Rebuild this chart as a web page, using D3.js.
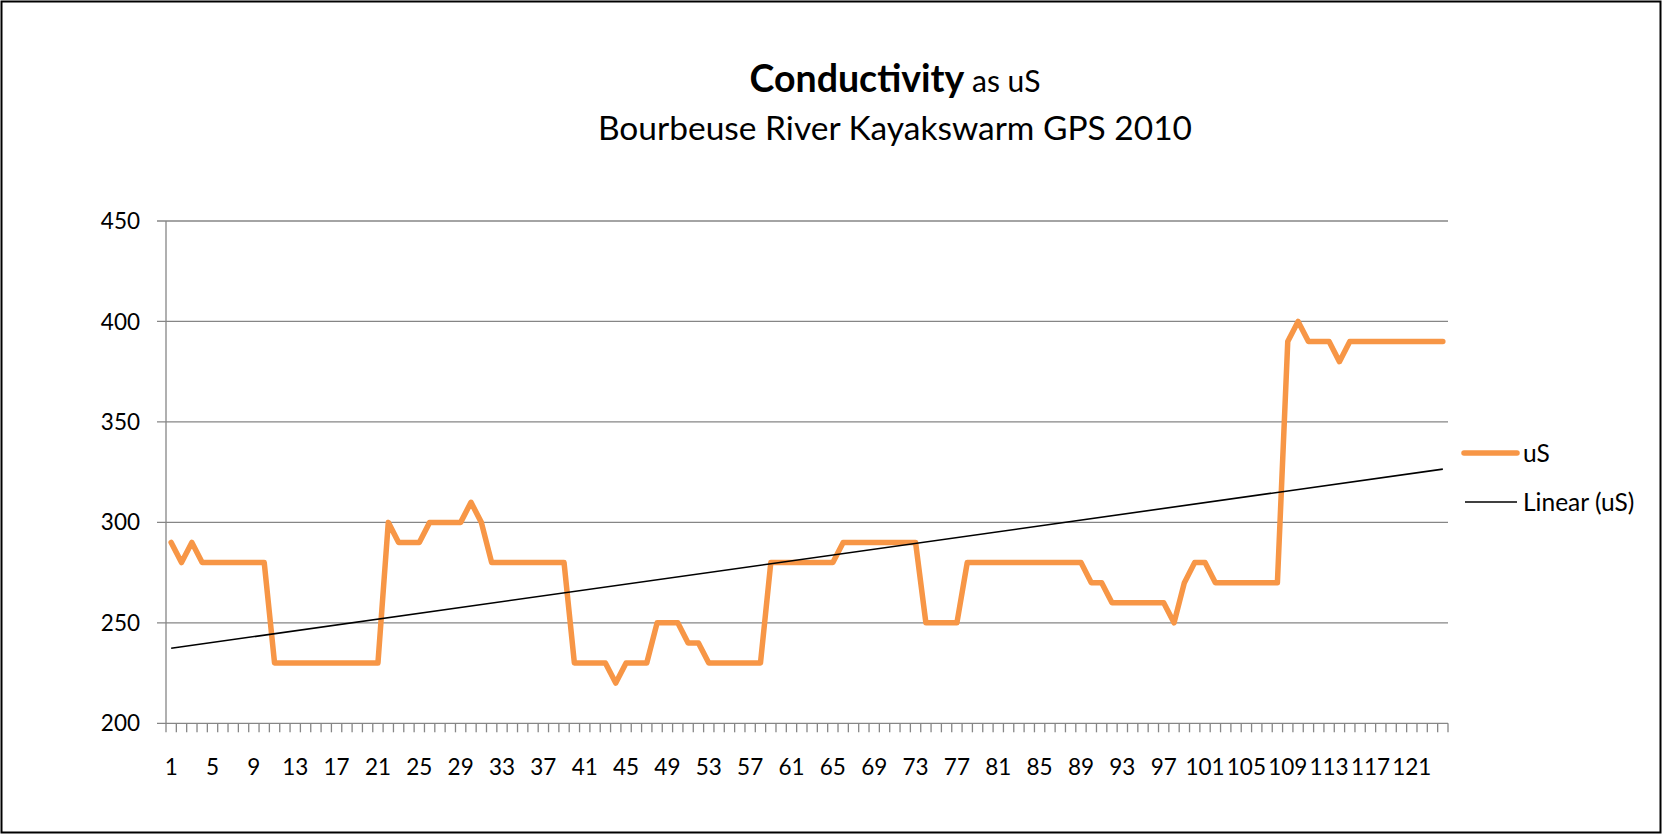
<!DOCTYPE html>
<html>
<head>
<meta charset="utf-8">
<script src="https://cdn.jsdelivr.net/npm/d3@7"></script>
<style>
  html, body { margin: 0; padding: 0; background: #fff; }
  svg text { font-family: Lato, "Open Sans", sans-serif; fill: #000; }
</style>
</head>
<body>
<svg id="chart" width="1662" height="835"></svg>
<script>
// readings, one per GPS point (1..124)
var points = d3.range(1, 125);
var uS = [
  290, 280, 290, 280, 280, 280, 280, 280, 280, 280,
  230, 230, 230, 230, 230, 230, 230, 230, 230, 230,
  230, 300, 290, 290, 290, 300, 300, 300, 300, 310,
  300, 280, 280, 280, 280, 280, 280, 280, 280, 230,
  230, 230, 230, 220, 230, 230, 230, 250, 250, 250,
  240, 240, 230, 230, 230, 230, 230, 230, 280, 280,
  280, 280, 280, 280, 280, 290, 290, 290, 290, 290,
  290, 290, 290, 250, 250, 250, 250, 280, 280, 280,
  280, 280, 280, 280, 280, 280, 280, 280, 280, 270,
  270, 260, 260, 260, 260, 260, 260, 250, 270, 280,
  280, 270, 270, 270, 270, 270, 270, 270, 390, 400,
  390, 390, 390, 380, 390, 390, 390, 390, 390, 390,
  390, 390, 390, 390
];
var yTicks = [200, 250, 300, 350, 400, 450];
var xLabels = points.filter(d => d % 4 == 1);

var svg = d3.select("#chart");

// frame
svg.append("rect")
  .attr("x", 1.5).attr("y", 1.5)
  .attr("width", 1659).attr("height", 831)
  .attr("fill", "none")
  .attr("stroke", "#000")
  .attr("stroke-width", 2);

var x = d3.scaleBand().domain(points).range([166, 1448]).padding(0);
var y = d3.scaleLinear().domain([200, 450]).range([723.3, 221]);
var cx = d => x(d) + x.bandwidth() / 2;

// gridlines
svg.append("g").selectAll("line")
  .data(yTicks)
  .join("line")
  .attr("x1", 157).attr("x2", 1448)
  .attr("y1", d => y(d)).attr("y2", d => y(d))
  .attr("stroke", "#868686")
  .attr("stroke-width", 1.3);

svg.append("g").selectAll("text")
  .data(yTicks)
  .join("text")
  .attr("x", 140)
  .attr("y", d => y(d))
  .attr("dy", "0.36em")
  .attr("text-anchor", "end")
  .attr("font-size", 22.5)
  .text(d => d);

// axes
svg.append("line")
  .attr("x1", 166).attr("x2", 166)
  .attr("y1", y(450)).attr("y2", y(200))
  .attr("stroke", "#868686").attr("stroke-width", 1.3);

var bounds = points.map(d => x(d)).concat([x.range()[1]]);
svg.append("g").selectAll("line")
  .data(bounds)
  .join("line")
  .attr("x1", d => d).attr("x2", d => d)
  .attr("y1", y(200)).attr("y2", y(200) + 9)
  .attr("stroke", "#868686").attr("stroke-width", 1.3);

svg.append("g").selectAll("text")
  .data(xLabels)
  .join("text")
  .attr("x", d => cx(d))
  .attr("y", 767)
  .attr("dy", "0.36em")
  .attr("text-anchor", "middle")
  .attr("font-size", 22.5)
  .text(d => d);

// linear trendline (least squares on point index)
var mx = d3.mean(points), my = d3.mean(uS);
var slope = d3.sum(points, (d, i) => (d - mx) * (uS[i] - my)) / d3.sum(points, d => (d - mx) * (d - mx));
var icpt = my - slope * mx;
var ends = [points[0], points[points.length - 1]];

// series
var line = d3.line().x(d => cx(d[0])).y(d => y(d[1]));
svg.append("path")
  .datum(points.map((d, i) => [d, uS[i]]))
  .attr("d", line)
  .attr("fill", "none")
  .attr("stroke", "#F79646")
  .attr("stroke-width", 5.5)
  .attr("stroke-linejoin", "round")
  .attr("stroke-linecap", "round");

svg.append("path")
  .datum(ends.map(d => [d, icpt + slope * d]))
  .attr("d", line)
  .attr("fill", "none")
  .attr("stroke", "#000")
  .attr("stroke-width", 1.6);

// legend
var legend = svg.append("g");
legend.append("line")
  .attr("x1", 1464).attr("x2", 1517).attr("y1", 453).attr("y2", 453)
  .attr("stroke", "#F79646").attr("stroke-width", 5.5).attr("stroke-linecap", "round");
legend.append("text").attr("x", 1523).attr("y", 453).attr("dy", "0.36em")
  .attr("font-size", 24.5).text("uS");
legend.append("line")
  .attr("x1", 1465).attr("x2", 1517).attr("y1", 502).attr("y2", 502)
  .attr("stroke", "#000").attr("stroke-width", 1.6);
legend.append("text").attr("x", 1523).attr("y", 502).attr("dy", "0.36em")
  .attr("font-size", 24.5).text("Linear (uS)");

// title
var title = svg.append("text")
  .attr("x", 895).attr("y", 92)
  .attr("text-anchor", "middle");
title.append("tspan").attr("font-weight", "bold").attr("font-size", 37.5).text("Conductivity");
title.append("tspan").attr("font-size", 30).text(" as uS");

svg.append("text")
  .attr("x", 895).attr("y", 140)
  .attr("text-anchor", "middle")
  .attr("font-size", 33.5)
  .text("Bourbeuse River Kayakswarm GPS 2010");
</script>
</body>
</html>
